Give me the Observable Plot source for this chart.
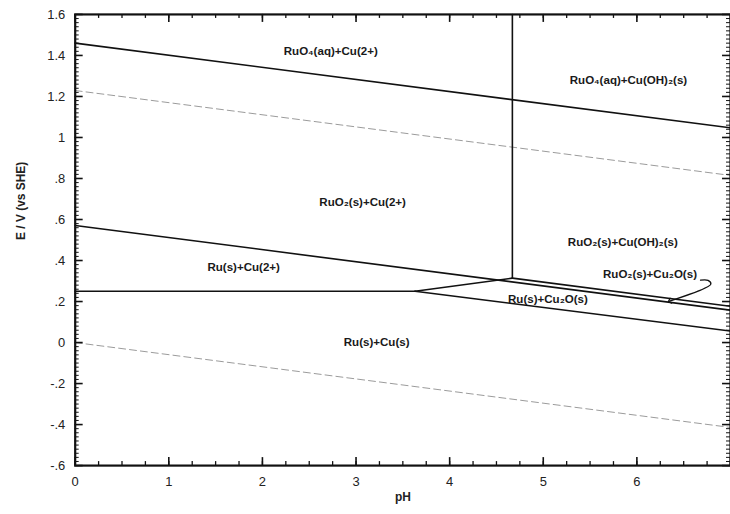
<!DOCTYPE html>
<html>
<head>
<meta charset="utf-8">
<script src="https://cdn.jsdelivr.net/npm/d3@7"></script>
<script src="https://cdn.jsdelivr.net/npm/@observablehq/plot@0.6"></script>
<style>
  html, body { margin: 0; padding: 0; background: #fff; overflow: hidden; }
  #chart svg { display: block; }
</style>
</head>
<body>
<div id="chart"></div>
<script>
// ---- data (pH, E) ----
const lineRuO4 = [[0, 1.46], [7, 1.047]];          // RuO4(aq) / RuO2(s)
const lineCuVertical = [[4.67, 0.314], [4.67, 1.6]]; // Cu(2+) / Cu(OH)2(s)
const lineRuO2Ru = [[0, 0.571], [7, 0.158]];       // RuO2(s) / Ru(s)
const lineCu2Cu = [[0, 0.25], [3.63, 0.25]];       // Cu(2+) / Cu(s)
const lineCu2Cu2O = [[3.63, 0.25], [4.67, 0.314]]; // Cu(2+) / Cu2O(s)
const lineCuOH2Cu2O = [[4.67, 0.314], [7, 0.177]]; // Cu(OH)2(s) / Cu2O(s)
const lineCu2OCu = [[3.63, 0.25], [7, 0.056]];     // Cu2O(s) / Cu(s)
const waterO2 = [[0, 1.229], [7, 0.815]];
const waterH2 = [[0, 0], [7, -0.414]];

const regionNames = ["RuO₄(aq)+Cu(2+)", "RuO₄(aq)+Cu(OH)₂(s)", "RuO₂(s)+Cu(2+)", "RuO₂(s)+Cu(OH)₂(s)",
  "Ru(s)+Cu(2+)", "Ru(s)+Cu₂O(s)", "RuO₂(s)+Cu₂O(s)", "Ru(s)+Cu(s)"];
const regionPH = [2.73, 5.91, 3.07, 5.85, 1.80, 5.05, 6.14, 3.22];
const regionE = [1.42, 1.28, 0.683, 0.488, 0.367, 0.212, 0.333, 0.003];

const calloutPath = [[6.68, 0.304], [6.76, 0.303], [6.79, 0.285], [6.35, 0.202]];

const xMajorTicks = [0, 1, 2, 3, 4, 5, 6, 7];
const xMinorTicks = d3.range(0, 7.001, 0.25);
const yMajorTicks = [-0.6, -0.4, -0.2, 0, 0.2, 0.4, 0.6, 0.8, 1, 1.2, 1.4, 1.6];
const yMinorTicks = d3.range(-0.6, 1.6001, 0.02);

// ---- layout ----
const W = 733, H = 514, mL = 75, mR = 0, mT = 14, mB = 47;
const pW = W - mL - mR, pH = H - mT - mB;

const fmtY = d => Number.isInteger(d) ? String(d) : d.toFixed(1).replace("0.", ".");

const seg = (pts, opts = {}) => Plot.line(pts, {x: d => d[0], y: d => d[1], stroke: "#111", strokeWidth: 1.6, ...opts});

const chart = Plot.plot({
  width: W, height: H,
  marginLeft: mL, marginRight: mR, marginTop: mT, marginBottom: mB,
  style: {fontFamily: "'Liberation Sans', Arial, sans-serif", fontSize: "13px", color: "#1a1a1a", background: "#fff"},
  x: {domain: [0, 7], axis: null},
  y: {domain: [-0.6, 1.6], axis: null},
  marks: [
    seg(waterO2, {stroke: "#9a9a9a", strokeWidth: 1, strokeDasharray: "7,4"}),
    seg(waterH2, {stroke: "#9a9a9a", strokeWidth: 1, strokeDasharray: "7,4"}),
    seg(lineRuO4), seg(lineCuVertical), seg(lineRuO2Ru), seg(lineCu2Cu),
    seg(lineCu2Cu2O), seg(lineCuOH2Cu2O), seg(lineCu2OCu),
    Plot.line(calloutPath, {x: d => d[0], y: d => d[1], stroke: "#111", strokeWidth: 1.3, curve: "catmull-rom", markerEnd: "arrow"}),
    // ticks (inward)
    Plot.tickX(xMinorTicks, {x: d => d, insetTop: pH - 4, stroke: "#111", strokeWidth: 1.3}),
    Plot.tickX(xMajorTicks, {x: d => d, insetTop: pH - 8, stroke: "#111", strokeWidth: 1.6}),
    Plot.tickX(xMinorTicks, {x: d => d, insetBottom: pH - 4, stroke: "#111", strokeWidth: 1.3}),
    Plot.tickX(xMajorTicks, {x: d => d, insetBottom: pH - 8, stroke: "#111", strokeWidth: 1.6}),
    Plot.tickY(yMinorTicks, {y: d => d, insetRight: pW - 4, stroke: "#111", strokeWidth: 1}),
    Plot.tickY(yMajorTicks, {y: d => d, insetRight: pW - 8, stroke: "#111", strokeWidth: 1.6}),
    Plot.tickY(yMinorTicks, {y: d => d, insetLeft: pW - 4, stroke: "#111", strokeWidth: 1}),
    Plot.tickY(yMajorTicks, {y: d => d, insetLeft: pW - 8, stroke: "#111", strokeWidth: 1.6}),
    Plot.frame({stroke: "#111", strokeWidth: 2.2}),
    Plot.axisX(xMajorTicks.slice(0, 7), {tickSize: 0, tickPadding: 11, fill: "#222", fontSize: 13}),
    Plot.axisY(yMajorTicks, {tickSize: 0, tickPadding: 10, tickFormat: fmtY, fill: "#222", fontSize: 13}),
    Plot.text(["pH"], {frameAnchor: "bottom", dy: 36, text: d => d, fontWeight: "bold", fontSize: 12, fill: "#222"}),
    Plot.text(["E / V (vs SHE)"], {frameAnchor: "left", dx: -54, rotate: -90, text: d => d, fontWeight: "bold", fontSize: 12, fill: "#222"}),
    Plot.text(regionNames, {x: (d, i) => regionPH[i], y: (d, i) => regionE[i], text: d => d, fontWeight: "bold", fontSize: 11.6, fill: "#1a1a1a"})
  ]
});
document.getElementById("chart").append(chart);
</script>
</body>
</html>
